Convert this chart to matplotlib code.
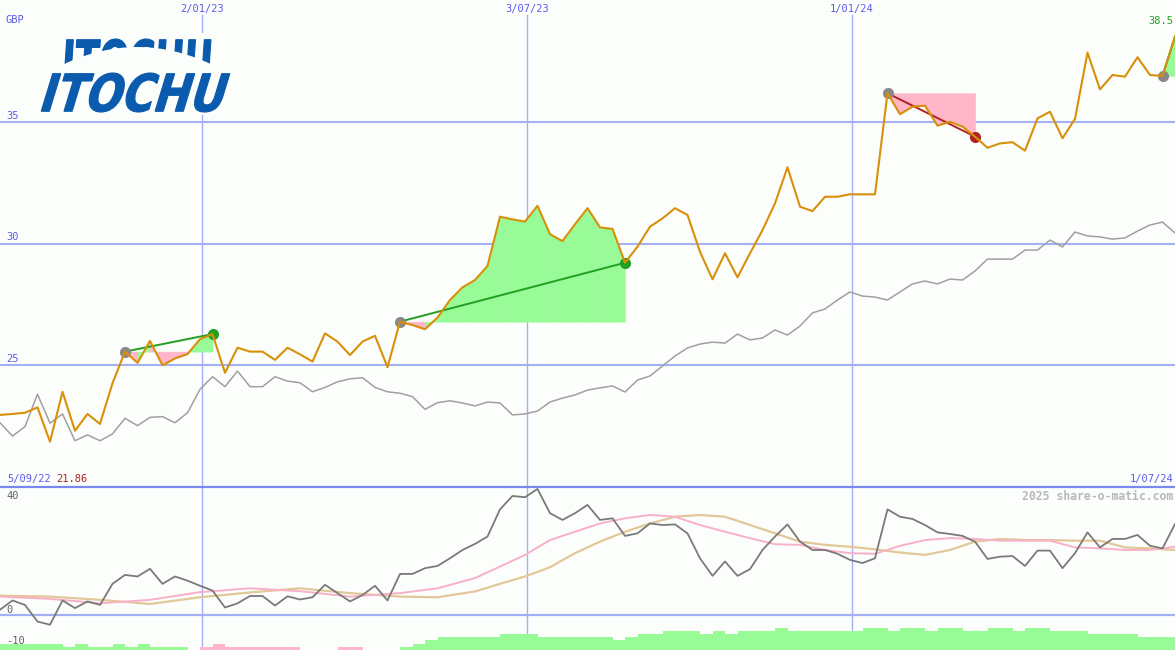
import numpy as np
import pandas as pd
import matplotlib
matplotlib.use('Agg')
import matplotlib.pyplot as plt
from matplotlib.textpath import TextPath
from matplotlib.font_manager import FontProperties
from matplotlib.patches import PathPatch, Rectangle, Polygon
from matplotlib.transforms import Affine2D

# weekly closes, ITOCHU (GBP) and comparison line
dates = pd.date_range('2022-09-11', periods=95, freq='7D')

price = [22.96, 23.0, 23.05, 23.27, 21.86, 23.91, 22.31, 23.0, 22.59, 24.26,
         25.56, 25.1, 26.0, 25.0, 25.28, 25.46, 26.07, 26.28, 24.69, 25.72,
         25.56, 25.56, 25.22, 25.72, 25.45, 25.15, 26.31, 25.97, 25.42, 25.97,
         26.21, 24.92, 26.79, 26.65, 26.48, 26.96, 27.68, 28.2, 28.5, 29.08,
         31.1, 30.99, 30.9, 31.55, 30.38, 30.1, 30.79, 31.45, 30.66, 30.6,
         29.21, 29.87, 30.69, 31.03, 31.45, 31.17, 29.66, 28.53, 29.6, 28.61,
         29.6, 30.55, 31.65, 33.13, 31.51, 31.33, 31.92, 31.92, 32.02, 32.02,
         32.02, 36.17, 35.31, 35.62, 35.66, 34.84, 35.0, 34.8, 34.39, 33.93,
         34.11, 34.16, 33.81, 35.14, 35.41, 34.32, 35.12, 37.84, 36.33, 36.92,
         36.85, 37.65, 36.92, 36.88, 38.5]

index_line = [22.64, 22.09, 22.48, 23.81, 22.62, 23.0, 21.9, 22.14, 21.9, 22.18,
              22.82, 22.52, 22.86, 22.89, 22.64, 23.05, 24.01, 24.53, 24.12, 24.76,
              24.12, 24.12, 24.53, 24.35, 24.28, 23.91, 24.09, 24.32, 24.44, 24.49,
              24.09, 23.91, 23.85, 23.71, 23.19, 23.46, 23.54, 23.45, 23.33, 23.49,
              23.45, 22.96, 23.0, 23.12, 23.49, 23.65, 23.78, 23.98, 24.07, 24.15,
              23.9, 24.39, 24.56, 24.97, 25.38, 25.71, 25.87, 25.95, 25.91, 26.28,
              26.04, 26.12, 26.45, 26.24, 26.61, 27.15, 27.31, 27.68, 28.01, 27.84,
              27.8, 27.68, 28.01, 28.34, 28.46, 28.34, 28.54, 28.5, 28.87, 29.36,
              29.36, 29.36, 29.73, 29.73, 30.14, 29.86, 30.47, 30.31, 30.27, 30.18,
              30.23, 30.51, 30.76, 30.88, 30.43]

osc = [1.6, 4.5, 3.1, -2.1, -3.1, 4.5, 2.1, 4.2, 3.1, 9.7,
       12.5, 12.0, 14.4, 9.7, 12.0, 10.7, 9.1, 7.6, 2.3, 3.6,
       5.9, 5.9, 2.9, 5.8, 4.8, 5.5, 9.4, 6.8, 4.2, 6.2,
       9.1, 4.5, 12.8, 12.8, 14.6, 15.3, 17.7, 20.3, 22.2, 24.5,
       33.0, 37.2, 36.8, 39.4, 31.8, 29.7, 31.8, 34.4, 29.7, 30.2,
       24.7, 25.5, 28.6, 28.1, 28.3, 25.5, 17.7, 12.2, 16.7, 12.2,
       14.3, 20.3, 24.5, 28.3, 22.9, 20.3, 20.3, 19.1, 17.2, 16.2,
       17.7, 33.0, 30.7, 30.0, 28.1, 25.8, 25.3, 24.7, 22.9, 17.5,
       18.2, 18.4, 15.3, 20.1, 20.1, 14.6, 19.3, 25.8, 21.1, 23.75,
       23.75, 25.0, 21.6, 20.8, 28.4]

ma_weeks = [0, 4, 8, 12, 16, 20, 24, 28, 32, 35, 38, 40, 42, 44, 46, 48, 50, 52, 54,
            56, 58, 60, 62, 64, 66, 68, 70, 72, 74, 76, 78, 80, 82, 84, 86, 88, 90, 92, 94]
ma_fast = [5.7, 5.0, 3.6, 4.7, 7.1, 8.3, 7.4, 5.7, 6.8, 8.3, 11.5, 15.1, 18.75, 23.4,
           26.0, 28.6, 30.2, 31.25, 30.7, 28.1, 26.0, 24.0, 22.1, 21.9, 20.3, 19.3, 19.1,
           21.6, 23.4, 24.0, 23.75, 23.2, 23.2, 23.2, 21.1, 20.8, 20.3, 20.3, 21.3]
ma_slow = [6.0, 5.7, 4.7, 3.4, 5.5, 7.0, 8.3, 6.8, 5.7, 5.5, 7.3, 9.7, 12.0, 14.9,
           19.3, 22.9, 26.0, 28.6, 30.7, 31.25, 30.7, 28.1, 25.5, 22.9, 21.9, 21.3, 20.5,
           19.5, 18.75, 20.3, 22.9, 23.75, 23.4, 23.4, 23.2, 23.2, 21.1, 20.8, 20.3]

# strength bars (positive green, negative pink), one per week interval
bar_vals = [2, 2, 2, 2, 2, 1, 2, 1, 1, 2, 1, 2, 1, 1, 1, 0, -1, -2, -1, -1,
            -1, -1, -1, -1, 0, 0, 0, -1, -1, 0, 0, 0, 1, 2, 3, 4, 4, 4, 4, 4,
            5, 5, 5, 4, 4, 4, 4, 4, 4, 3, 4, 5, 5, 6, 6, 6, 5, 6, 5, 6,
            6, 6, 7, 6, 6, 6, 6, 6, 6, 7, 7, 6, 7, 7, 6, 7, 7, 6, 6, 7,
            7, 6, 7, 7, 6, 6, 6, 5, 5, 5, 5, 4, 4, 4]

# (start week, end week, kind)
signals = [(10, 17, 'buy'), (32, 50, 'buy'), (71, 78, 'sell'), (93, 94, 'open')]

price_ticks = [35, 30, 25]
grid_dates = pd.to_datetime(['2023-01-02', '2023-07-03', '2024-01-01'])
grid_labels = ['2/01/23', '3/07/23', '1/01/24']

BG = '#fcfefc'
GRID = '#a4b0f4'
SEP = '#7888ee'
BLUE = '#5b5bea'
ORANGE = '#d8900a'
LGREEN = '#98fb98'
LPINK = '#ffb6c8'
DGREEN = '#22a022'
DRED = '#b02222'
LOGO = '#0a5aad'
MONO = 'DejaVu Sans Mono'

W, H = 1175, 650
fig = plt.figure(figsize=(W / 100, H / 100), dpi=100, facecolor=BG)

ax = fig.add_axes([0, 163 / H, 1, 487 / H])
ax2 = fig.add_axes([0, 0, 1, 163 / H])
for a in (ax, ax2):
    a.set_xlim(dates[0], dates[-1])
    a.set_axis_off()
ax.set_ylim(20, 40)
ax2.set_ylim(-11, 40)

# grid
for v in price_ticks:
    ax.axhline(v, color=GRID, lw=1.5, zorder=0)
for d in grid_dates:
    ax.axvline(d, ymin=0, ymax=1 - 15 / 487, color=GRID, lw=1.0, zorder=0)
    ax2.axvline(d, color=GRID, lw=1.0, zorder=0)
ax2.axhline(0, color=GRID, lw=1.6, zorder=0)
ax2.axhline(40, color=SEP, lw=1.6, zorder=6, clip_on=False)

# main panel
ax.plot(dates, index_line, color='#a0a0a0', lw=1.1, zorder=1)

for s, e, kind in signals:
    level = price[s]
    for k in range(s, e):
        c = LGREEN if price[k + 1] > level else LPINK
        ax.fill_between(dates[k:k + 2], price[k:k + 2], level, color=c,
                        lw=0.4, edgecolor=c, zorder=2)
    lc = DRED if kind == 'sell' else DGREEN
    ax.plot([dates[s], dates[e]], [price[s], price[e]], color=lc, lw=1.4, zorder=3)
    ax.plot(dates[s], price[s], 'o', color='#888888', ms=8, mew=0, zorder=4)
    if kind != 'open':
        ax.plot(dates[e], price[e], 'o', color=lc, ms=8, mew=0, zorder=4)

ax.plot(dates, price, color=ORANGE, lw=1.5, zorder=5)

for d, lab in zip(grid_dates, grid_labels):
    ax.text(d, 1 - 9 / 487, lab, transform=ax.get_xaxis_transform(), ha='center',
            va='center', color=BLUE, fontsize=7.5, family=MONO)

# lower panel
cols = [LGREEN if v > 0 else LPINK for v in bar_vals]
ax2.bar(dates[:-1], [abs(v) for v in bar_vals], width=7, align='edge', bottom=-11,
        color=cols, lw=0, zorder=2)
ax2.plot(dates[ma_weeks], ma_slow, color='#e2c898', lw=1.6, zorder=3)
ax2.plot(dates[ma_weeks], ma_fast, color='#f8b0c8', lw=1.4, zorder=3)
ax2.plot(dates, osc, color='#7a7a7a', lw=1.3, zorder=4)

# overlay in pixel coordinates for labels and logo
ov = fig.add_axes([0, 0, 1, 1], zorder=10)
ov.set_xlim(0, W)
ov.set_ylim(H, 0)
ov.set_axis_off()

ov.text(6, 20, 'GBP', color=BLUE, fontsize=7.5, family=MONO, va='center')
for v in price_ticks:
    y = 487 * (40 - v) / 20
    ov.text(6, y - 6, str(v), color=BLUE, fontsize=7.5, family=MONO, va='center')
ov.text(1173, 21, f'{price[-1]:.1f}', color=DGREEN, fontsize=7.5, family=MONO,
        ha='right', va='center')
ov.text(7, 479, '5/09/22', color=BLUE, fontsize=7.5, family=MONO, va='center')
ov.text(56, 479, f'{min(price):.2f}', color=DRED, fontsize=7.5, family=MONO, va='center')
ov.text(1173, 479, '1/07/24', color=BLUE, fontsize=7.5, family=MONO, ha='right', va='center')
ov.text(1173, 496, '2025 share-o-matic.com', color='#b8b8b8', fontsize=8.3,
        family=MONO, weight='bold', ha='right', va='center')
for lab, y in [('40', 496), ('0', 610), ('-10', 641)]:
    ov.text(6, y, lab, color='#606060', fontsize=7.5, family=MONO, va='center')

# logo
ov.add_patch(Rectangle((36, 33), 198, 82, fc=BG, ec='none', zorder=1))
tp = TextPath((0, 0), 'ITOCHU', size=100,
              prop=FontProperties(family='Liberation Sans Narrow', weight='bold'))
ext = tp.get_extents()


def logo_patch(x0, x1, ytop, ybot, slant):
    sh = np.tan(np.radians(slant))
    wpath = ext.width + sh * ext.height
    tr = (Affine2D().translate(-ext.x0, -ext.y0).skew(np.radians(slant), 0)
          .scale((x1 - x0) / wpath, -(ybot - ytop) / ext.height).translate(x0, ybot))
    return PathPatch(tr.transform_path(tp), fc=LOGO, ec=LOGO, lw=0.8, zorder=2)


ov.add_patch(logo_patch(41, 230, 73, 112, 20))
up = logo_patch(64, 211, 39, 80, 6)
xs = np.linspace(215, 60, 30)
arc = [(x, 47 + 19 * ((x - 137.5) / 77.5) ** 2) for x in xs]
clip = Polygon([(55, 30), (220, 30)] + arc, closed=True, transform=ov.transData)
ov.add_patch(up)
up.set_clip_path(clip)

fig.savefig('out.png', dpi=100, facecolor=BG)
